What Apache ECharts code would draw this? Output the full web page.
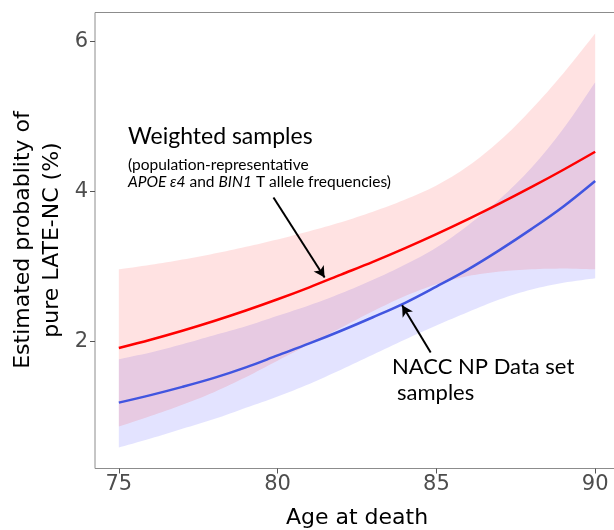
<!DOCTYPE html>
<html>
<head>
<meta charset="utf-8">
<script src="https://cdn.jsdelivr.net/npm/echarts@6/dist/echarts.min.js"></script>
<style>html,body{margin:0;padding:0;background:#fff;}#c{width:614px;height:530px;}</style>
</head>
<body>
<div id="c"></div>
<script>
const ages = [75,76,77,78,79,80,81,82,83,84,85,86,87,88,89,90];
const redMid  = [1.91,2.02,2.14,2.27,2.41,2.56,2.72,2.89,3.06,3.24,3.43,3.63,3.84,4.06,4.29,4.53];
const redHigh = [2.96,3.02,3.09,3.17,3.26,3.36,3.47,3.59,3.73,3.89,4.08,4.34,4.68,5.10,5.58,6.11];
const redLow  = [0.86,1.00,1.15,1.32,1.52,1.74,1.96,2.18,2.40,2.60,2.76,2.87,2.93,2.96,2.97,2.96];
const blueMid  = [1.18,1.28,1.39,1.51,1.65,1.81,1.97,2.14,2.32,2.51,2.73,2.96,3.22,3.50,3.80,4.14];
const blueHigh = [1.76,1.85,1.96,2.08,2.20,2.34,2.48,2.64,2.82,3.02,3.25,3.55,3.90,4.32,4.84,5.46];
const blueLow  = [0.58,0.70,0.83,0.96,1.11,1.26,1.43,1.62,1.82,2.02,2.21,2.39,2.56,2.69,2.78,2.84];
const xTicks = [75,80,85,90];
const yTicks = [2,4,6];
const weightedArrow = [[79.87,3.92],[81.48,2.85]];
const naccArrow = [[84.82,1.85],[83.92,2.48]];

const pair = (xs, ys) => xs.map((x,i)=>[x, ys[i]]);

// smooth rendering of an edge through pixel points (Catmull-Rom, drawing only)
function smoothEdge(p) {
  const out = [];
  const n = p.length;
  const g = i => p[Math.max(0, Math.min(n-1, i))];
  for (let i=0;i<n-1;i++) {
    const p0=g(i-1), p1=g(i), p2=g(i+1), p3=g(i+2);
    for (let k=0;k<8;k++) {
      const t=k/8, t2=t*t, t3=t2*t;
      const f = (a,b,c,d) => 0.5*((2*b)+(-a+c)*t+(2*a-5*b+4*c-d)*t2+(-a+3*b-3*c+d)*t3);
      out.push([f(p0[0],p1[0],p2[0],p3[0]), f(p0[1],p1[1],p2[1],p3[1])]);
    }
  }
  out.push(p[n-1]);
  return out;
}

function bandSeries(hi, lo, color) {
  return {
    type:'custom', coordinateSystem:'cartesian2d', silent:true, clip:true,
    data:[[ages[0], lo[0]]],
    renderItem:function(params, api){
      const up = ages.map((a,i)=>api.coord([a, hi[i]]));
      const dn = ages.map((a,i)=>api.coord([a, lo[i]]));
      const pts = smoothEdge(up).concat(smoothEdge(dn).reverse());
      return {type:'polygon', shape:{points:pts}, style:{fill:color}};
    }
  };
}

const chart = echarts.init(document.getElementById('c'), null, {renderer:'canvas'});
const tickFont = {fontFamily:'DejaVu Sans', fontSize:21, color:'#4d4d4d'};

chart.setOption({
  animation:false,
  grid:{left:95, right:-5, top:12.5, bottom:61.5, containLabel:false, outerBoundsMode:'none',
    show:true, borderColor:'#8c8c8c', borderWidth:1, backgroundColor:'transparent'},
  xAxis:{type:'value', min:74.25, max:90.75,
    name:'Age at death', nameLocation:'middle', nameGap:39,
    nameTextStyle:{fontFamily:'DejaVu Sans', fontSize:22, color:'#000'},
    axisLine:{show:false}, splitLine:{show:false},
    axisTick:{show:true, length:5, customValues:xTicks, lineStyle:{color:'#555'}},
    axisLabel:Object.assign({customValues:xTicks, margin:6}, tickFont)},
  yAxis:{type:'value', min:0.3, max:6.39,
    axisLine:{show:false}, splitLine:{show:false},
    axisTick:{show:true, length:5, customValues:yTicks, lineStyle:{color:'#555'}},
    axisLabel:Object.assign({customValues:yTicks, margin:7}, tickFont)},
  series:[
    bandSeries(blueHigh, blueLow, 'rgba(0,0,255,0.11)'),
    bandSeries(redHigh, redLow, 'rgba(255,0,0,0.115)'),
    {type:'line', data:pair(ages, blueMid), symbol:'none', smooth:0.35, silent:true, lineStyle:{color:'#4155E0', width:2.5}},
    {type:'line', data:pair(ages, redMid), symbol:'none', smooth:0.35, silent:true, lineStyle:{color:'#FF0000', width:2.5}},
    {type:'line', data:[], silent:true,
      markLine:{silent:true, animation:false, symbol:['none','arrow'], symbolSize:[9,11],
        label:{show:false}, emphasis:{disabled:true},
        lineStyle:{color:'#000', width:2, type:'solid'},
        data:[
          [{coord:weightedArrow[0]},{coord:weightedArrow[1]}],
          [{coord:naccArrow[0]},{coord:naccArrow[1]}]
        ]}}
  ],
  graphic:[
    {type:'text', x:37.5, y:240, rotation:Math.PI/2, silent:true,
      style:{text:'Estimated probablity of\npure LATE-NC (%)', font:'22px "DejaVu Sans"', lineHeight:29, align:'center', verticalAlign:'middle', fill:'#000'}},
    {type:'text', x:128, y:137, silent:true,
      style:{text:'Weighted samples', font:'23px Lato', align:'left', verticalAlign:'middle', fill:'#000'}},
    {type:'text', x:128, y:165, silent:true,
      style:{text:'(population-representative', font:'15.5px Lato', align:'left', verticalAlign:'middle', fill:'#000'}},
    {type:'text', x:128, y:182, silent:true,
      style:{text:'{i|APOE ε4}{n| and }{i|BIN1}{n| T allele frequencies)}', align:'left', verticalAlign:'middle', fill:'#000',
        rich:{i:{fontFamily:'Lato', fontSize:15.5, fontStyle:'italic', fill:'#000'}, n:{fontFamily:'Lato', fontSize:15.5, fill:'#000'}}}},
    {type:'text', x:392, y:367, silent:true,
      style:{text:'NACC NP Data set', font:'22px Lato', align:'left', verticalAlign:'middle', fill:'#000'}},
    {type:'text', x:397, y:393, silent:true,
      style:{text:'samples', font:'22px Lato', align:'left', verticalAlign:'middle', fill:'#000'}}
  ]
});
</script>
</body>
</html>
